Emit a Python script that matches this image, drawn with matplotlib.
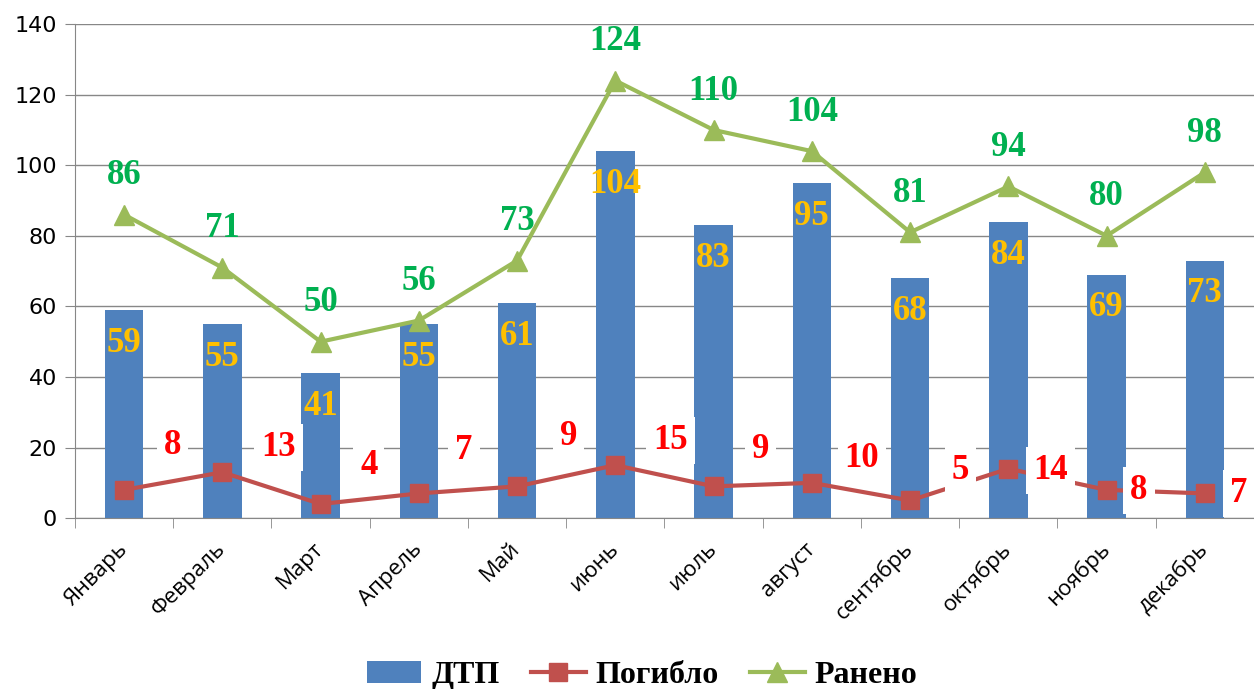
import numpy as np
import matplotlib
matplotlib.use("Agg")
import matplotlib.pyplot as plt

months = ["Январь", "Февраль", "Март", "Апрель", "Май", "июнь", "июль",
          "август", "сентябрь", "октябрь", "ноябрь", "декабрь"]
dtp = [59, 55, 41, 55, 61, 104, 83, 95, 68, 84, 69, 73]
killed = [8, 13, 4, 7, 9, 15, 9, 10, 5, 14, 8, 7]
injured = [86, 71, 50, 56, 73, 124, 110, 104, 81, 94, 80, 98]

# hand-placed offsets for the red labels (category units, value units)
red_dx = [0.49, 0.57, 0.49, 0.46, 0.52, 0.56, 0.48, 0.51, 0.51, 0.43, 0.33, 0.34]
red_dy = [12.7, 7.0, 11.0, 12.3, 14.0, 7.0, 10.5, 7.0, 8.6, -0.4, -0.1, 0.0]

BLUE = "#4F81BD"; RED = "#C0504D"; GREEN = "#9BBB59"; GRID = "#878787"
SERIF = "Liberation Serif"

fig = plt.figure(figsize=(12.54, 6.89), dpi=100)
ax = fig.add_axes([0.0598, 0.248, 0.9402, 0.717])
x = np.arange(len(months))

b = ax.bar(x, dtp, width=0.39, color=BLUE, zorder=2, label="ДТП")
l1, = ax.plot(x, killed, color=RED, lw=3, marker="s", ms=13, zorder=3, label="Погибло")
l2, = ax.plot(x, injured, color=GREEN, lw=3, marker="^", ms=15, zorder=4, label="Ранено")

for i in x:
    ax.annotate(str(dtp[i]), (i, dtp[i]), xytext=(0, -24), textcoords="offset points",
                ha="center", va="center", color="#FFC000", fontsize=25,
                fontweight="bold", family=SERIF, zorder=5)
    ax.annotate(str(injured[i]), (i, injured[i]), xytext=(0, 28), textcoords="offset points",
                ha="center", va="center", color="#00B050", fontsize=25,
                fontweight="bold", family=SERIF, zorder=5)
    ax.text(i + red_dx[i], killed[i] + red_dy[i], str(killed[i]), ha="center", va="center",
            color="#FF0000", fontsize=25, fontweight="bold", family=SERIF, zorder=6,
            bbox=dict(boxstyle="square,pad=0.2", fc="white", ec="none"))

ax.set_xlim(-0.5, len(months) - 0.5)
ax.set_ylim(0, 140)
ax.set_yticks(range(0, 141, 20))
ax.yaxis.grid(True, color=GRID, lw=1)
ax.set_axisbelow(True)
ax.tick_params(axis="y", labelsize=16, length=7, color=GRID, pad=6)
ax.set_xticks(x)
ax.set_xticklabels(months, rotation=45, ha="right", va="center", rotation_mode="anchor",
                   fontsize=16, family="Open Sans")
ax.tick_params(axis="x", length=0, pad=20)
ax.set_xticks(np.arange(-0.5, len(months)), minor=True)
ax.tick_params(axis="x", which="minor", length=7, color=GRID)
for sp in ("top", "right"):
    ax.spines[sp].set_visible(False)
for sp in ("left", "bottom"):
    ax.spines[sp].set_color(GRID)

fig.legend([b, l1, l2], ["ДТП", "Погибло", "Ранено"], loc="center",
           bbox_to_anchor=(0.512, 0.02), ncol=3, frameon=False,
           prop=dict(family=SERIF, weight="bold", size=23), handlelength=1.7,
           columnspacing=1.0, handletextpad=0.3)

fig.savefig("out.png", dpi=100)
